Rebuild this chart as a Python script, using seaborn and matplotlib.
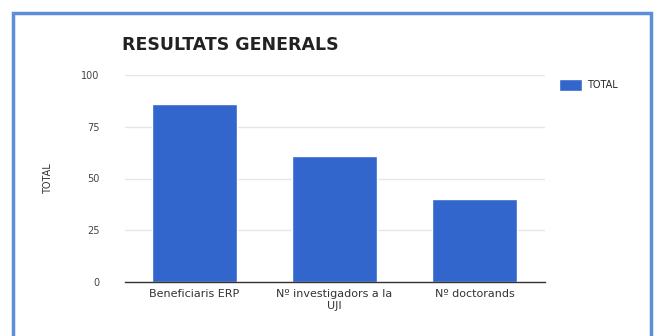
import matplotlib
matplotlib.use("Agg")
import matplotlib.pyplot as plt
import seaborn as sns
import pandas as pd
from matplotlib.patches import Rectangle

categories = ["Beneficiaris ERP", "Nº investigadors a la\nUJI", "Nº doctorands"]
values = [86, 61, 40]
series_name = "TOTAL"
yticks = [0, 25, 50, 75, 100]
title = "RESULTATS GENERALS"
ylabel = "TOTAL"

df = pd.DataFrame({"cat": categories, "val": values, "series": [series_name] * len(categories)})

sns.set_theme(style="white")
plt.rcParams["font.family"] = ["DejaVu Sans"]

fig = plt.figure(figsize=(6.61, 3.36), dpi=100)
fig.patch.set_facecolor("white")
ax = fig.add_axes([124.5 / 661, 54 / 336, 420 / 661, 207 / 336])

sns.barplot(data=df, x="cat", y="val", hue="series", palette=["#3366CC"],
            width=0.61, ax=ax, legend=True, saturation=1)

ax.set_ylim(0, 100)
ax.set_yticks(yticks)
ax.set_yticklabels([str(t) for t in yticks], fontsize=7, color="#444444")
ax.tick_params(axis="x", labelsize=8, colors="#333333", length=0, pad=5)
ax.tick_params(axis="y", length=0, pad=18)
ax.set_xlabel("")
ax.set_ylabel(ylabel, fontsize=7, color="#333333", labelpad=20)
ax.grid(axis="y", color="#e6e6e6", linewidth=1)
ax.set_axisbelow(True)
for s in ["top", "right", "left"]:
    ax.spines[s].set_visible(False)
ax.spines["bottom"].set_color("#333333")
ax.spines["bottom"].set_linewidth(1)

leg = ax.legend(loc="upper left", bbox_to_anchor=(1.025, 1.0), frameon=False,
                fontsize=7, handlelength=2.4, handleheight=1.5, handletextpad=0.5,
                borderaxespad=0)

fig.text(122 / 661, 1 - 45 / 336, title, fontsize=12.5, fontweight="bold",
         color="#222222", ha="left", va="center")

fig.patches.append(Rectangle((12.5 / 661, -0.02), 638 / 661, 1 - 13 / 336 + 0.02,
                             transform=fig.transFigure, fill=False,
                             edgecolor="#5b8fd9", linewidth=2.5, zorder=10))

fig.savefig("out.png", dpi=100)
